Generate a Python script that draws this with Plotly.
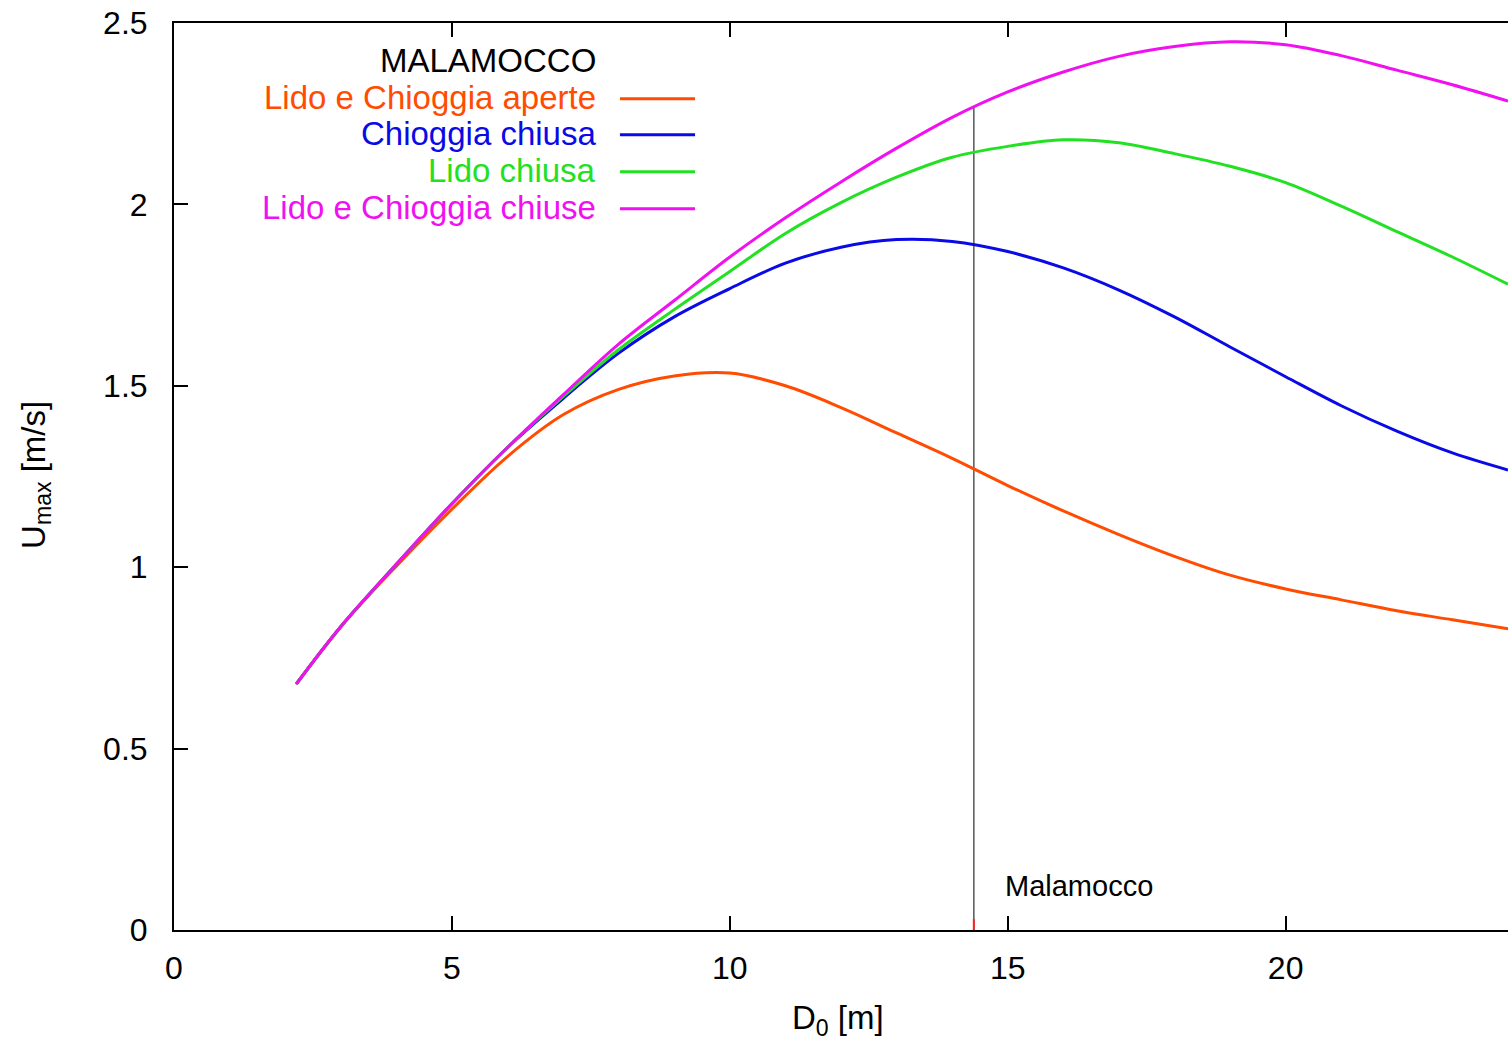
import plotly.graph_objects as go

# ---- data ----
x_aperte = [2.2, 3, 4, 5, 6, 7, 8, 9, 10, 11, 12, 13, 14, 15, 16, 17, 18, 19, 20, 21, 22, 23, 24]
y_aperte = [0.678, 0.836, 1.003, 1.16, 1.305, 1.42, 1.49, 1.527, 1.535, 1.50, 1.44, 1.37, 1.30, 1.225, 1.155, 1.09, 1.03, 0.978, 0.94, 0.91, 0.88, 0.855, 0.83]

x_chioggia = [2.2, 3, 4, 5, 6, 7, 8, 9, 10, 11, 12, 13, 14, 15, 16, 17, 18, 19, 20, 21, 22, 23, 24]
y_chioggia = [0.678, 0.836, 1.008, 1.175, 1.33, 1.465, 1.59, 1.69, 1.768, 1.838, 1.882, 1.903, 1.898, 1.87, 1.825, 1.764, 1.69, 1.607, 1.525, 1.445, 1.375, 1.315, 1.268]

x_lido = [2.2, 3, 4, 5, 6, 7, 8, 9, 10, 11, 12, 13, 14, 15, 16, 17, 18, 19, 20, 21, 22, 23, 24]
y_lido = [0.678, 0.836, 1.008, 1.175, 1.33, 1.47, 1.60, 1.71, 1.815, 1.92, 2.005, 2.075, 2.13, 2.16, 2.178, 2.17, 2.14, 2.105, 2.06, 1.995, 1.925, 1.855, 1.78]

x_chiuse = [2.2, 3, 4, 5, 6, 7, 8, 9, 10, 11, 12, 13, 14, 15, 16, 17, 18, 19, 20, 21, 22, 23, 24]
y_chiuse = [0.678, 0.836, 1.008, 1.175, 1.33, 1.475, 1.615, 1.735, 1.855, 1.963, 2.062, 2.155, 2.24, 2.31, 2.365, 2.408, 2.435, 2.448, 2.44, 2.41, 2.37, 2.33, 2.285]

x_malamocco = 14.39
y_malamocco_top = 2.27

series_names = ["Lido e Chioggia aperte", "Chioggia chiusa", "Lido chiusa", "Lido e Chioggia chiuse"]
series_colors = ["#FF4C00", "#0A0AE6", "#22E022", "#F010F0"]
xs = [x_aperte, x_chioggia, x_lido, x_chiuse]
ys = [y_aperte, y_chioggia, y_lido, y_chiuse]

x_ticks = [0, 5, 10, 15, 20]
y_ticks = [0, 0.5, 1, 1.5, 2, 2.5]
y_tick_text = ["0", "0.5", "1", "1.5", "2", "2.5"]

FONT = "Liberation Sans, Arial, sans-serif"

fig = go.Figure()

# vertical Malamocco line
fig.add_trace(go.Scatter(x=[x_malamocco, x_malamocco], y=[0, y_malamocco_top], mode="lines",
                         line=dict(color="#555555", width=1.5), showlegend=False, hoverinfo="skip"))
fig.add_trace(go.Scatter(x=[x_malamocco, x_malamocco], y=[0, 0.03], mode="lines",
                         line=dict(color="#FF2020", width=2), showlegend=False, hoverinfo="skip"))

for name, color, x, y in zip(series_names, series_colors, xs, ys):
    fig.add_trace(go.Scatter(x=x, y=y, mode="lines", name=name,
                             line=dict(color=color, width=3, shape="spline", smoothing=1.0),
                             showlegend=False))

# legend (gnuplot style: text right aligned, sample to the right)
annotations = [dict(text="MALAMOCCO", x=0.3178, y=0.9592, xref="paper", yref="paper",
                    xanchor="right", yanchor="middle", showarrow=False,
                    font=dict(size=33, color="black", family=FONT))]
shapes = []
leg_y = [0.9184, 0.8787, 0.8379, 0.7971]
for name, color, ly in zip(series_names, series_colors, leg_y):
    annotations.append(dict(text=name, x=0.3178, y=ly, xref="paper", yref="paper",
                            xanchor="right", yanchor="middle", showarrow=False,
                            font=dict(size=33, color=color, family=FONT)))
    shapes.append(dict(type="line", xref="paper", yref="paper", x0=0.3343, x1=0.3906,
                       y0=ly - 0.002, y1=ly - 0.002, line=dict(color=color, width=3)))

annotations.append(dict(text="Malamocco", x=14.92, y=0.121, xref="x", yref="y",
                        xanchor="left", yanchor="middle", showarrow=False,
                        font=dict(size=29, color="black", family=FONT)))
annotations.append(dict(text="U<sub>max</sub> [m/s]", x=-0.104, y=0.502, xref="paper", yref="paper",
                        xanchor="center", yanchor="middle", textangle=-90, showarrow=False,
                        font=dict(size=33, color="black", family=FONT)))
annotations.append(dict(text="D<sub>0</sub> [m]", x=0.498, y=-0.099, xref="paper", yref="paper",
                        xanchor="center", yanchor="middle", showarrow=False,
                        font=dict(size=33, color="black", family=FONT)))

fig.update_layout(
    width=1508, height=1043,
    margin=dict(l=174, r=0, t=23, b=113),
    paper_bgcolor="white", plot_bgcolor="white",
    font=dict(family=FONT, size=32, color="black"),
    showlegend=False,
    annotations=annotations,
    shapes=shapes,
    xaxis=dict(range=[0, 24], tickvals=x_ticks, ticktext=[str(v) for v in x_ticks],
               ticks="inside", ticklen=14, tickwidth=2, tickcolor="black",
               showline=True, linecolor="black", linewidth=2, mirror="ticks",
               showgrid=False, zeroline=False, ticklabelstandoff=9,
               tickfont=dict(size=32, family=FONT)),
    yaxis=dict(range=[0, 2.5], tickvals=y_ticks, ticktext=y_tick_text,
               ticks="inside", ticklen=14, tickwidth=2, tickcolor="black",
               showline=True, linecolor="black", linewidth=2, mirror=False,
               showgrid=False, zeroline=False, ticklabelstandoff=18,
               tickfont=dict(size=32, family=FONT)),
    yaxis2=dict(range=[0, 2.5], overlaying="y", side="right", tickvals=y_ticks,
                ticks="inside", ticklen=14, tickwidth=2, tickcolor="black",
                showline=False, showticklabels=False, showgrid=False, zeroline=False),
)

fig.write_html("out.html")
